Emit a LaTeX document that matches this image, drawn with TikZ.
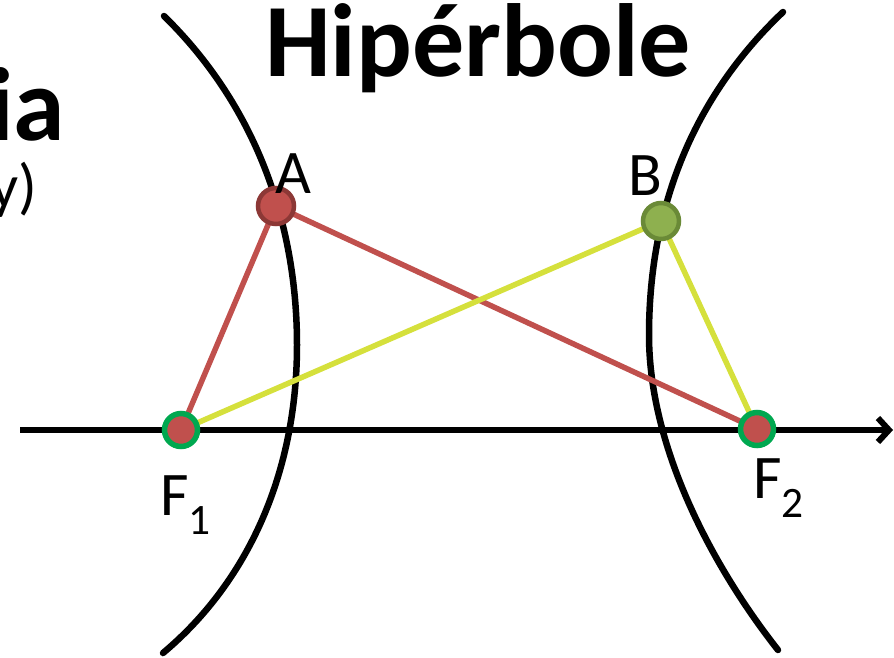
\documentclass[tikz,border=0pt]{standalone}
\usepackage{fontspec}
\setmainfont{Carlito}
\usetikzlibrary{arrows.meta}
\definecolor{ptred}{HTML}{C0504D}
\definecolor{ptdarkred}{HTML}{8C3836}
\definecolor{ptolive}{HTML}{8EB04F}
\definecolor{ptdarkolive}{HTML}{6A8A37}
\definecolor{ptgreen}{HTML}{00A850}
\definecolor{ptyellow}{HTML}{D5E03C}
\begin{document}
\begin{tikzpicture}[x=1pt, y=-1pt, line width=6pt,
    branch/.style={black, line width=6.5pt, line cap=round},
    seg/.style={line width=5.5pt},
    focus/.style={circle, fill=ptred, draw=ptgreen, line width=5.5pt, minimum size=33pt, inner sep=0pt},
    pointA/.style={circle, fill=ptred, draw=ptdarkred, line width=4.5pt, minimum size=36pt, inner sep=0pt},
    pointB/.style={circle, fill=ptolive, draw=ptdarkolive, line width=4.5pt, minimum size=36pt, inner sep=0pt},
    lbl/.style={inner sep=0pt, font=\fontsize{62}{62}\selectfont}]
    \useasboundingbox (0,0) rectangle (894,657);
    % titles
    \node[anchor=base, inner sep=0pt, font=\fontsize{104}{90}\selectfont\bfseries] (title) at (478,76) {Hipérbole};
    \node[anchor=base east, inner sep=0pt, font=\fontsize{104}{104}\selectfont\bfseries] (cut) at (68,140) {ia};
    \node[anchor=base east, lbl] (cutsub) at (40,207) {y)};
    % hyperbola branches
    \draw[branch] (164,16) .. controls (260,110) and (297,230) .. (297,345)
                          .. controls (297,470) and (250,580) .. (163,653);
    \draw[branch] (783,12) .. controls (685,105) and (649,220) .. (649,335)
                          .. controls (649,450) and (715,570) .. (778,650);
    % axis
    \coordinate (xs) at (20,430);
    \coordinate (xe) at (893,430);
    \draw[-{Straight Barb[length=11pt, width=24pt]}] (xs) -- (xe);
    % points
    \coordinate (F1) at (181,430);
    \coordinate (F2) at (757,429);
    \coordinate (A) at (276,206);
    \coordinate (B) at (661,221);
    \draw[seg, ptred] (F1) -- (A) -- (F2);
    \draw[seg, ptyellow] (F1) -- (B) -- (F2);
    \node[focus] (f1dot) at (F1) {};
    \node[focus] (f2dot) at (F2) {};
    \node[pointA] (adot) at (A) {};
    \node[pointB] (bdot) at (B) {};
    % labels
    \node[anchor=base, lbl] (la) at (293,193) {A};
    \node[anchor=base, lbl] (lb) at (645,195) {B};
    \node[anchor=base west, lbl] (lf1) at (157,515) {F\textsubscript{1}};
    \node[anchor=base west, lbl] (lf2) at (750,498) {F\textsubscript{2}};
\end{tikzpicture}
\end{document}
